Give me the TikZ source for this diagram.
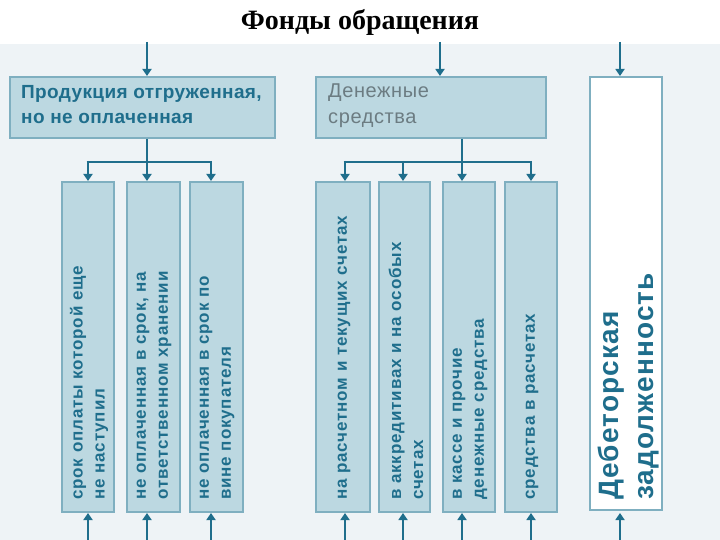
\documentclass[tikz,border=0pt]{standalone}
\usepackage{fontspec}
\setmainfont{Liberation Serif}
\setsansfont{Liberation Sans}
\usetikzlibrary{arrows.meta}
\definecolor{teal1}{HTML}{1F6E8C}
\definecolor{boxfill}{HTML}{BCD8E1}
\definecolor{boxline}{HTML}{7FAFC0}
\definecolor{bg}{HTML}{EEF3F6}
\begin{document}
\begin{tikzpicture}[x=1pt,y=-1pt,
  box/.style={draw=boxline,fill=boxfill,line width=1.2pt},
  col/.style={font=\sffamily\bfseries\fontsize{17}{22}\selectfont\addfontfeature{LetterSpace=5},text=teal1,rotate=90,anchor=west,align=left,inner sep=0pt},
  arr/.style={draw=teal1,line width=2.6pt,-{Triangle[length=7pt,width=9pt]}},
  ln/.style={draw=teal1,line width=2.6pt}]
\useasboundingbox (0,0) rectangle (720,540);
\fill[white] (0,0) rectangle (720,540);
\fill[bg] (0,44) rectangle (720,540);
\node[font=\bfseries\fontsize{28}{32}\selectfont] (title) at (360,22) {Фонды обращения};
% top boxes
\path[box] (10,77) rectangle (275,138);
\node[font=\sffamily\bfseries\fontsize{19}{25}\selectfont\addfontfeature{LetterSpace=2},text=teal1,anchor=north west,align=left,inner sep=0pt] (p) at (21,85) {Продукция отгруженная,\\ но не оплаченная};
\path[box] (316,77) rectangle (546,138);
\node[font=\sffamily\fontsize{20}{26}\selectfont\addfontfeature{LetterSpace=3},text=gray!80!teal1,anchor=north west,align=left,inner sep=0pt] (d) at (328,84) {Денежные\\средства};
\path[draw=boxline,fill=white,line width=1.2pt] (590,77) rectangle (662,510);
\node[font=\sffamily\bfseries\fontsize{28}{35}\selectfont\addfontfeature{LetterSpace=4},text=teal1,rotate=90,anchor=west,align=left,inner sep=0pt] (z) at (629,500) {Дебеторская\\задолженность};
% columns
\foreach \a/\b in {62/114,127/180,190/243,316/370,379/430,443/495,505/557}{
  \path[box] (\a,182) rectangle (\b,512);
}
\node[col] (c1) at (89,500) {срок оплаты которой еще\\не наступил};
\node[col] (c2) at (154,500) {не оплаченная в срок, на\\ответственном хранении};
\node[col] (c3) at (217,500) {не оплаченная в срок по\\вине покупателя};
\node[col] (c4) at (344,500) {на расчетном и текущих счетах};
\node[col] (c5) at (406,500) {в аккредитивах и на особых\\счетах};
\node[col] (c6) at (470,500) {в кассе и прочие\\денежные средства};
\node[col] (c7) at (532,500) {средства в расчетах};
% arrows top
\coordinate (t1) at (147,42); \coordinate (t2) at (440,42); \coordinate (t3) at (620,42);
\draw[arr] (t1) -- (147,76);
\draw[arr] (t2) -- (440,76);
\draw[arr] (t3) -- (620,76);
\draw[ln] (147,139) -- (147,162);
\draw[ln] (86.7,162) -- (212.3,162);
\foreach \x in {88,147,211} \draw[arr] (\x,161) -- (\x,181);
\draw[ln] (462,139) -- (462,162);
\draw[ln] (343.7,162) -- (532.3,162);
\foreach \x in {345,403,462,531} \draw[arr] (\x,161) -- (\x,181);
\foreach \x in {88,147,211,345,403,462,531,620} \draw[arr] (\x,540) -- (\x,513);
\end{tikzpicture}
\end{document}
